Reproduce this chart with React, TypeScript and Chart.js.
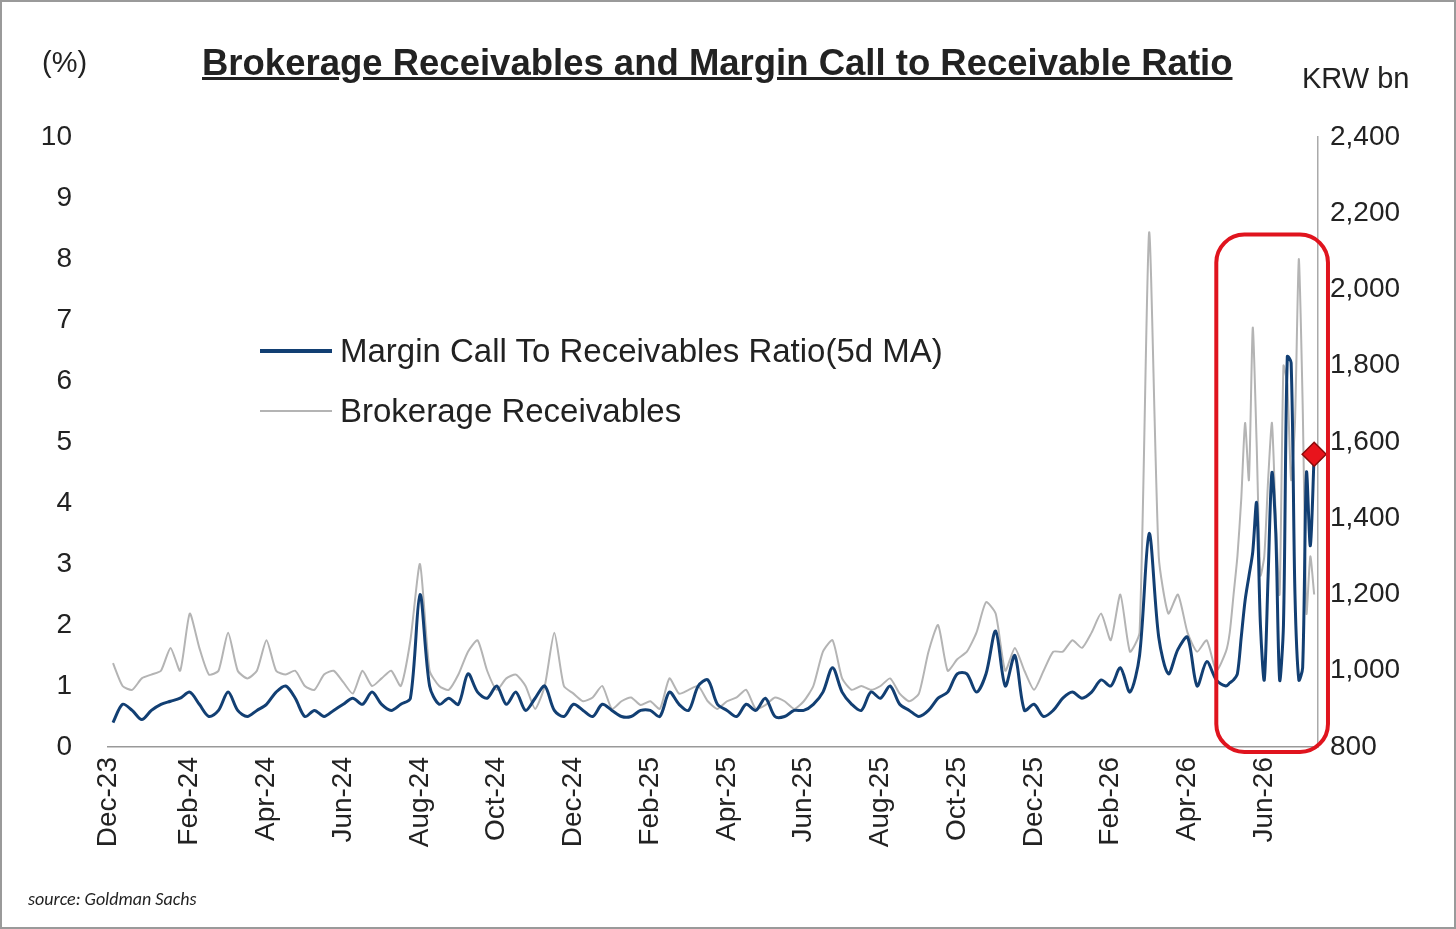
import React, { useEffect, useRef } from "react";
import { Chart, registerables } from "chart.js";
Chart.register(...registerables);

const monthLabels = ["Dec-23","Feb-24","Apr-24","Jun-24","Aug-24","Oct-24","Dec-24","Feb-25","Apr-25","Jun-25","Aug-25","Oct-25","Dec-25","Feb-26","Apr-26","Jun-26"];

// weekly-ish observations (months since Dec-23), then denser in the last window
const weeklyRatio = [
  0.4,0.7,0.6,0.45,0.6,0.7,0.75,0.8,
  0.9,0.7,0.5,0.6,0.9,0.6,0.5,0.6,
  0.7,0.9,1.0,0.8,0.5,0.6,0.5,0.6,
  0.7,0.8,0.7,0.9,0.7,0.6,0.7,0.8,
  2.5,1.0,0.7,0.8,0.7,1.2,0.9,0.8,
  1.0,0.7,0.9,0.6,0.8,1.0,0.6,0.5,
  0.7,0.6,0.5,0.7,0.6,0.5,0.5,0.6,
  0.6,0.5,0.9,0.7,0.6,1.0,1.1,0.7,
  0.6,0.5,0.7,0.6,0.8,0.5,0.5,0.6,
  0.6,0.7,0.9,1.3,0.9,0.7,0.6,0.9,
  0.8,1.0,0.7,0.6,0.5,0.6,0.8,0.9,
  1.2,1.2,0.9,1.2,1.9,1.0,1.5,0.6,
  0.7,0.5,0.6,0.8,0.9,0.8,0.9,1.1,
  1.0,1.3,0.9,1.5,3.5,1.8,1.2,1.6,
  1.8,1.0,1.4,1.1
];
const weeklyRecv = [
  1020,960,950,980,990,1000,1060,1000,
  1150,1060,990,1000,1100,1000,980,1000,
  1080,1000,990,1000,960,950,990,1000,
  970,940,1000,960,980,1000,960,1080,
  1280,1000,960,950,990,1050,1080,1000,
  950,980,990,960,900,960,1100,960,
  940,920,930,960,900,920,930,910,
  920,900,980,940,950,960,920,900,
  920,930,950,900,910,930,920,900,
  920,960,1050,1080,980,950,960,950,
  960,980,940,920,940,1050,1120,1000,
  1030,1050,1100,1180,1150,1000,1060,1000,
  950,1000,1050,1050,1080,1060,1100,1150,
  1080,1200,1050,1100,2150,1300,1150,1200,
  1100,1050,1080,1000
];
const dailyRatio = [1.0,1.05,1.1,1.2,1.8,2.4,2.8,3.2,4.0,2.0,1.1,2.8,4.5,3.5,1.1,2.0,6.4,6.3,2.5,1.1,1.3,4.5,3.3,4.8];
const dailyRecv = [1050,1100,1200,1300,1450,1650,1500,1900,1600,1250,1300,1500,1650,1400,1200,1800,1750,1500,1650,2080,1700,1150,1300,1200];
const lastMarker = 4.8;

export default function App() {
  const ref = useRef<HTMLCanvasElement>(null);
  useEffect(() => {
    const xs: number[] = [];
    weeklyRatio.forEach((_, i) => xs.push(i * 0.25));
    dailyRatio.forEach((_, i) => xs.push(29 + i * 0.1));
    const ratio = [...weeklyRatio, ...dailyRatio].map((y, i) => ({ x: xs[i], y }));
    const recv = [...weeklyRecv, ...dailyRecv].map((y, i) => ({ x: xs[i], y }));
    const boxPlugin = {
      id: "box",
      afterDatasetsDraw(c: any) {
        const ctx = c.ctx; const x = c.scales.x; const y = c.scales.y;
        const l = x.getPixelForValue(28.75), r = x.getPixelForValue(31.66);
        const t = y.getPixelForValue(8.4), b = y.getPixelForValue(-0.08);
        ctx.save(); ctx.strokeStyle = "#e0141e"; ctx.lineWidth = 4;
        ctx.beginPath(); ctx.roundRect(l, t, r - l, b - t, 28); ctx.stroke(); ctx.restore();
      },
    };
    const chart = new Chart(ref.current!, {
      type: "line",
      data: {
        datasets: [
          { data: [{ x: xs[xs.length - 1], y: lastMarker }], yAxisID: "y", pointStyle: "rectRot", pointRadius: 12, backgroundColor: "#e8141c", borderColor: "#8a0a0a", borderWidth: 1.5, showLine: false, order: 0, clip: false },
          { data: ratio, yAxisID: "y", borderColor: "#123f73", borderWidth: 3, pointRadius: 0, tension: 0.3, order: 1 },
          { data: recv, yAxisID: "y1", borderColor: "#b4b4b4", borderWidth: 2, pointRadius: 0, tension: 0.2, order: 2 },
        ],
      },
      options: {
        animation: false, responsive: false,
        layout: { padding: { top: 137, right: 0, bottom: 0, left: 0 } },
        plugins: { legend: { display: false }, tooltip: { enabled: false } },
        scales: {
          x: {
            type: "linear", min: -0.13, max: 31.4,
            grid: { display: false, drawTicks: true, tickLength: 8, tickColor: "#999" },
            border: { color: "#999", width: 1.5 },
            ticks: { stepSize: 2, autoSkip: false, minRotation: 90, maxRotation: 90, color: "#222", font: { family: "Arial, Liberation Sans", size: 28 }, padding: 2,
              callback: (v: any) => monthLabels[Math.round(v / 2)] ?? "" },
            afterFit: (s: any) => { s.height = 182; },
          },
          y: {
            position: "left", min: 0, max: 10,
            grid: { display: false }, border: { display: false },
            ticks: { stepSize: 1, color: "#222", font: { family: "Arial, Liberation Sans", size: 28 }, padding: 28 },
            afterFit: (s: any) => { s.width = 108; },
          },
          y1: {
            position: "right", min: 800, max: 2400,
            grid: { display: false, drawTicks: true, tickLength: 8, tickColor: "#999" },
            border: { color: "#aaa", width: 1.5 },
            ticks: { stepSize: 200, padding: 4, color: "#222", font: { family: "Arial, Liberation Sans", size: 28 }, callback: (v: any) => Number(v).toLocaleString("en-US") },
            afterFit: (s: any) => { s.width = 138; },
          },
        },
      },
      plugins: [boxPlugin],
    } as any);
    return () => chart.destroy();
  }, []);
  const txt: React.CSSProperties = { position: "absolute", fontFamily: "Arial, 'Liberation Sans', sans-serif", color: "#222" };
  return (
    <div style={{ position: "fixed", left: 0, top: 0, width: 1456, height: 929, background: "#fff", boxSizing: "border-box", border: "2px solid #9a9a9a" }}>
      <canvas ref={ref} width={1456} height={929} style={{ position: "absolute", left: -2, top: -2 }} />
      <div style={{ ...txt, left: 40, top: 44, fontSize: 29 }}>(%)</div>
      <div style={{ ...txt, left: 200, top: 40, fontSize: 36.5, fontWeight: "bold", textDecoration: "underline" }}>Brokerage Receivables and Margin Call to Receivable Ratio</div>
      <div style={{ ...txt, left: 1300, top: 60, fontSize: 29 }}>KRW bn</div>
      <div style={{ ...txt, left: 258, top: 330, fontSize: 33, display: "flex", alignItems: "center" }}>
        <span style={{ display: "inline-block", width: 72, height: 4, background: "#123f73", marginRight: 8 }} />Margin Call To Receivables Ratio(5d MA)
      </div>
      <div style={{ ...txt, left: 258, top: 390, fontSize: 33, display: "flex", alignItems: "center" }}>
        <span style={{ display: "inline-block", width: 72, height: 2, background: "#b4b4b4", marginRight: 8 }} />Brokerage Receivables
      </div>
      <div style={{ ...txt, left: 26, top: 886, fontSize: 18, fontStyle: "italic", fontFamily: "Calibri, Carlito, 'Liberation Sans', sans-serif" }}>source: Goldman Sachs</div>
    </div>
  );
}
